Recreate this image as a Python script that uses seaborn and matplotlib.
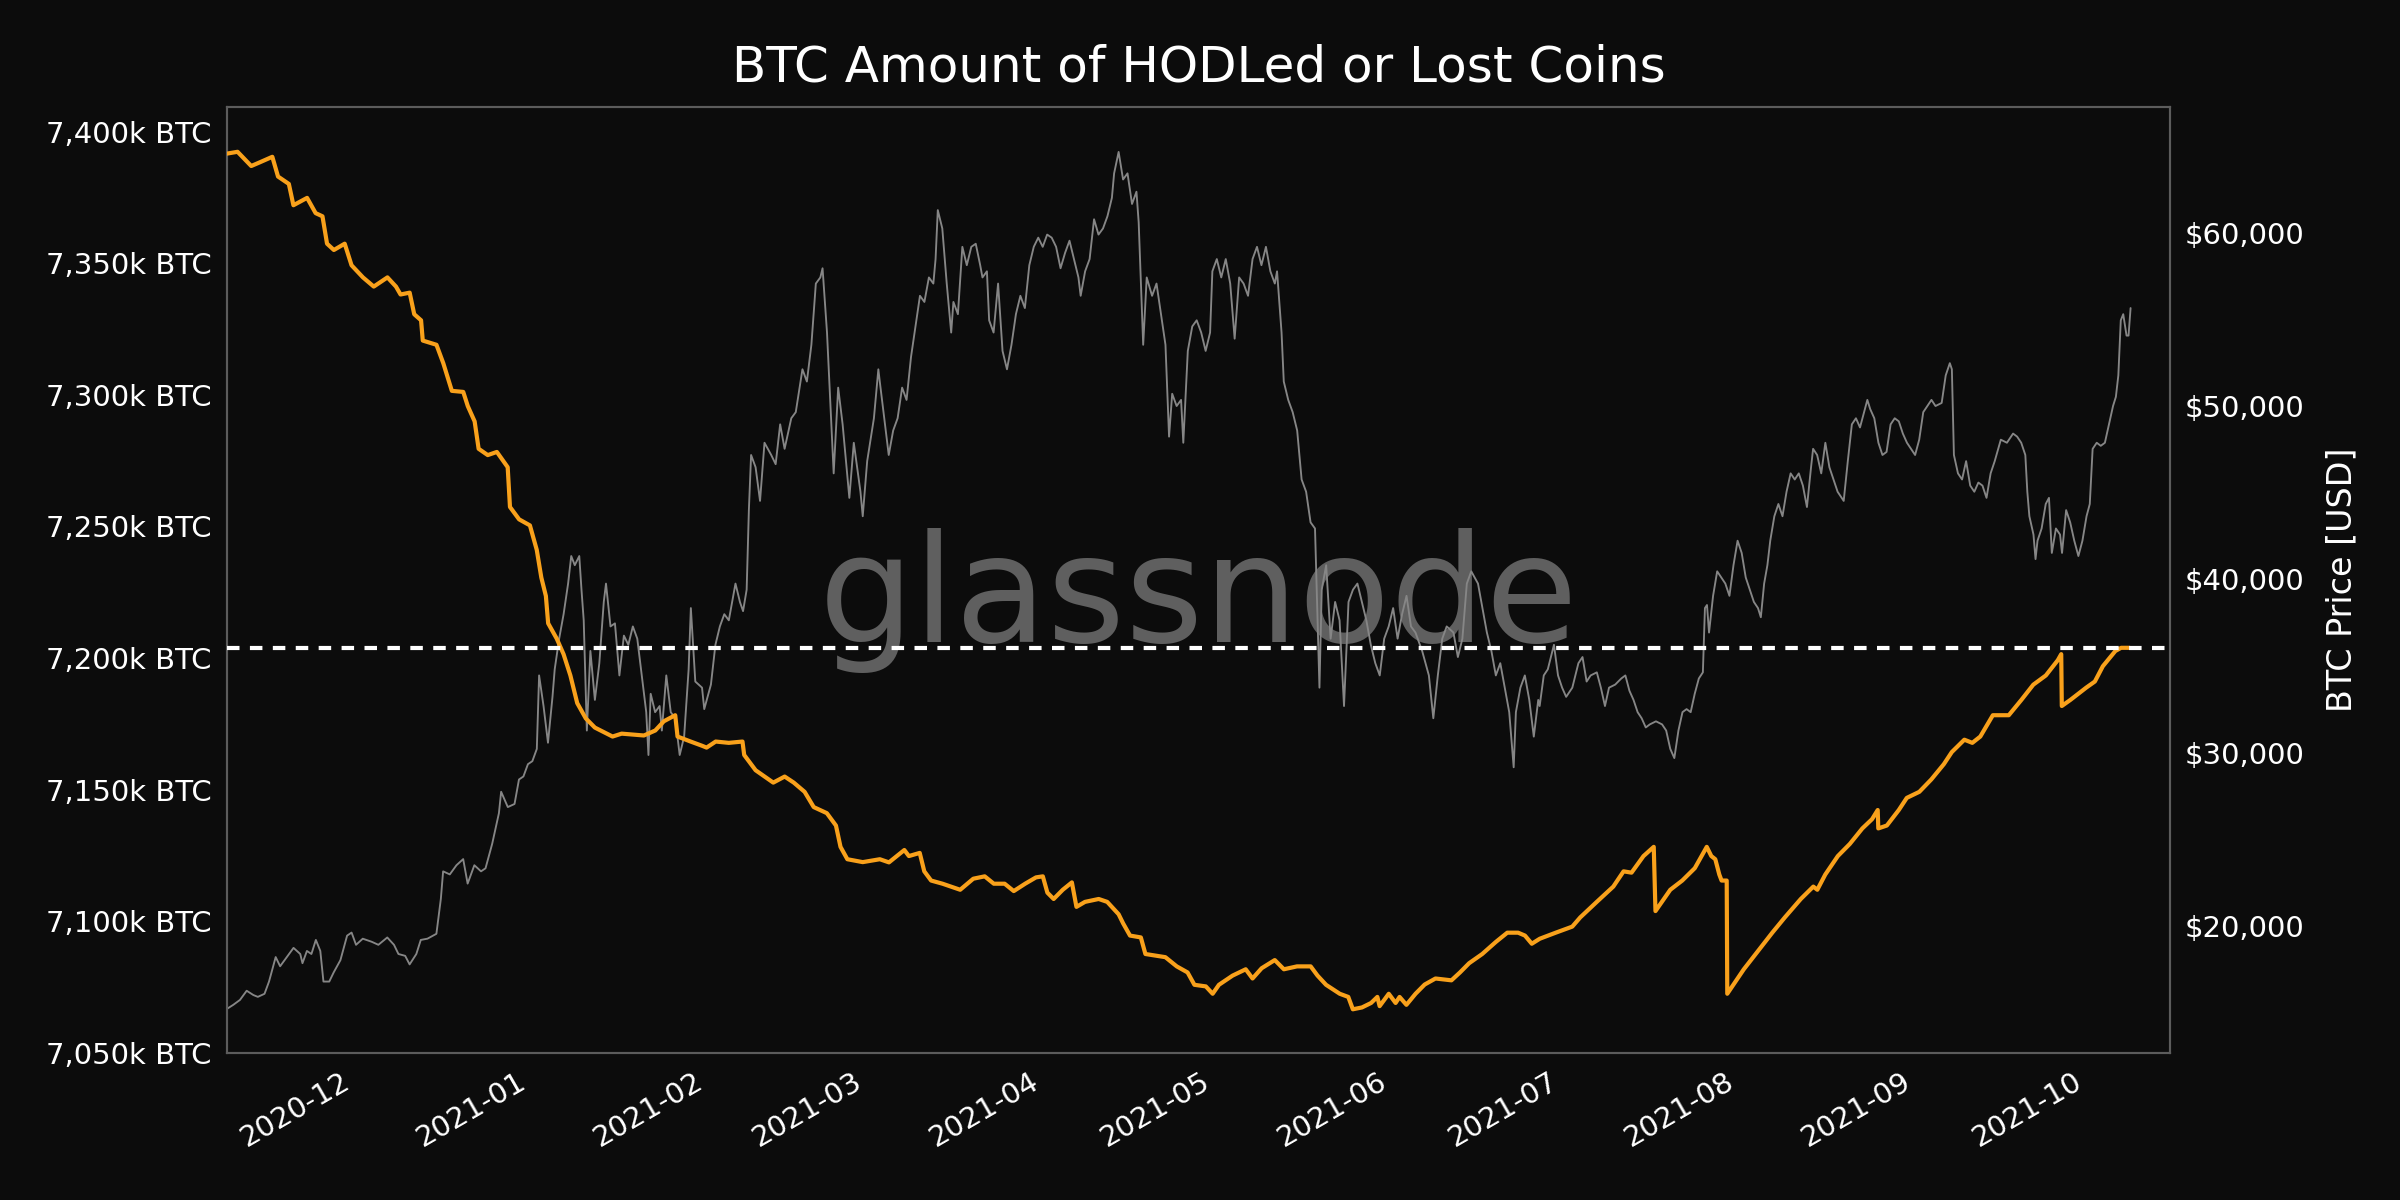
import numpy as np
import pandas as pd
import matplotlib
matplotlib.use("Agg")
import matplotlib.pyplot as plt
import matplotlib.dates as mdates
from matplotlib.ticker import FuncFormatter, MultipleLocator
import seaborn as sns

# ---------------- data ----------------
epoch = "2020-11-29 12:00"   # day 0 for the day offsets below

# Amount of HODLed or lost coins (thousand BTC)
hodl_day = [
    -20.9, -19.0, -16.6, -15.1, -12.9, -11.9, -10.0, -9.2,
    -6.8, -5.3, -4.1, -3.3, -2.1, -0.2, 1.0, 3.0,
    4.9, 7.3, 8.8, 9.6, 11.2, 12.0, 13.2, 13.5,
    15.9, 17.1, 18.6, 20.6, 21.4, 22.6, 23.3, 24.9,
    26.5, 28.4, 28.8, 30.4, 32.3, 33.5, 34.3, 35.1,
    35.5, 37.0, 38.2, 39.4, 40.6, 42.1, 43.7, 46.8,
    48.4, 52.3, 54.3, 55.8, 57.8, 58.2, 60.5, 62.5,
    63.3, 64.9, 67.2, 69.6, 69.9, 71.9, 75.0, 77.0,
    78.6, 80.5, 82.1, 84.4, 86.0, 86.8, 88.0, 90.7,
    93.7, 95.3, 98.0, 98.8, 100.7, 101.5, 102.7, 104.7,
    106.2, 107.8, 110.1, 112.1, 113.7, 115.6, 117.2, 119.2,
    121.1, 122.3, 123.1, 124.2, 125.8, 127.4, 128.2, 129.7,
    132.1, 133.6, 135.6, 136.4, 137.6, 139.5, 140.3, 142.3,
    143.8, 145.8, 147.7, 148.9, 150.9, 152.1, 153.2, 155.6,
    157.9, 159.1, 160.7, 163.0, 164.6, 166.9, 169.3, 170.5,
    172.0, 174.4, 175.9, 176.7, 178.3, 179.9, 181.0, 181.4,
    183.0, 184.2, 184.9, 186.1, 187.7, 189.3, 191.2, 194.0,
    195.5, 197.1, 199.4, 201.8, 203.8, 205.7, 206.9, 208.1,
    209.5, 212.3, 215.2, 216.6, 219.5, 222.4, 224.2, 225.6,
    227.7, 229.5, 229.8, 232.4, 234.5, 236.7, 238.8, 239.6,
    240.3, 241.0, 241.4, 242.3, 242.4, 245.3, 248.2, 250.3,
    252.5, 255.3, 257.5, 258.2, 259.6, 261.8, 263.9, 266.1,
    267.8, 268.8, 268.9, 270.4, 272.5, 273.9, 276.1, 278.2,
    280.4, 281.8, 284.0, 285.4, 286.8, 289.0, 291.8, 294.0,
    296.1, 298.3, 300.4, 301.0, 301.1, 302.6, 305.4, 306.9,
    308.3, 310.5, 311.5, 313.0,
]
hodl_kbtc = [
    7391.6, 7392.3, 7386.9, 7388.3, 7390.4, 7382.9, 7380.1, 7372.0,
    7374.8, 7369.0, 7367.8, 7357.4, 7355.0, 7357.4, 7349.2, 7344.6,
    7341.1, 7344.6, 7341.1, 7338.1, 7338.8, 7330.6, 7328.3, 7320.6,
    7319.0, 7312.0, 7301.5, 7301.1, 7295.7, 7289.9, 7279.5, 7277.1,
    7278.3, 7272.5, 7257.4, 7252.7, 7250.4, 7241.1, 7230.6, 7223.6,
    7213.2, 7207.4, 7201.5, 7193.4, 7182.9, 7177.1, 7173.6, 7170.2,
    7171.3, 7170.6, 7172.5, 7176.0, 7178.3, 7170.2, 7168.3, 7166.7,
    7166.0, 7168.3, 7167.8, 7168.3, 7163.2, 7157.4, 7152.7, 7155.0,
    7152.7, 7149.2, 7143.4, 7141.1, 7136.4, 7128.3, 7123.6, 7122.5,
    7123.6, 7122.4, 7127.1, 7124.8, 7126.0, 7119.0, 7115.5, 7114.3,
    7113.2, 7112.0, 7116.2, 7117.1, 7114.3, 7114.3, 7111.5, 7114.3,
    7116.7, 7117.1, 7110.9, 7108.5, 7112.0, 7114.8, 7105.5, 7107.4,
    7108.5, 7107.4, 7102.7, 7099.2, 7094.6, 7093.9, 7087.6, 7086.9,
    7086.4, 7082.9, 7080.6, 7075.9, 7075.3, 7072.5, 7075.9, 7079.4,
    7081.8, 7078.3, 7082.2, 7085.3, 7081.8, 7082.9, 7082.9, 7079.4,
    7075.9, 7072.5, 7071.3, 7066.6, 7067.3, 7069.0, 7071.3, 7067.8,
    7072.5, 7069.0, 7071.3, 7068.3, 7072.5, 7076.0, 7078.3, 7077.6,
    7080.6, 7084.1, 7087.6, 7092.2, 7095.7, 7095.7, 7094.6, 7091.5,
    7093.4, 7095.7, 7098.0, 7101.5, 7107.4, 7113.2, 7119.0, 7118.5,
    7124.8, 7128.3, 7103.9, 7112.0, 7115.5, 7120.2, 7128.3, 7124.8,
    7123.6, 7117.8, 7115.5, 7115.5, 7072.5, 7081.8, 7089.9, 7095.7,
    7101.5, 7108.5, 7113.2, 7112.0, 7117.8, 7124.8, 7129.4, 7135.3,
    7138.8, 7142.3, 7135.3, 7136.4, 7142.3, 7146.9, 7149.2, 7153.9,
    7159.7, 7164.3, 7169.0, 7167.8, 7170.2, 7178.3, 7178.3, 7184.1,
    7189.9, 7193.4, 7199.2, 7201.5, 7181.8, 7184.1, 7188.8, 7191.1,
    7196.9, 7202.7, 7203.9, 7203.9,
]

# BTC price (USD)
price_day = [
    -20.93, -19.75, -18.58, -17.40, -16.23, -15.44, -14.27, -13.48,
    -12.31, -11.53, -10.35, -9.18, -8.00, -7.61, -6.83, -6.04,
    -5.26, -4.48, -3.93, -2.91, -2.13, -0.95, 0.22, 1.01,
    1.79, 2.97, 4.53, 5.71, 7.27, 8.45, 9.23, 10.41,
    11.19, 12.37, 13.15, 14.32, 15.89, 16.67, 17.07, 18.24,
    19.41, 20.59, 21.37, 22.55, 23.72, 24.51, 25.68, 26.86,
    27.25, 28.42, 29.60, 30.38, 31.16, 31.95, 32.73, 33.51,
    33.91, 34.69, 35.47, 36.26, 36.65, 37.43, 38.21, 39.00,
    39.55, 40.17, 40.96, 41.35, 41.74, 42.29, 42.91, 43.70,
    44.48, 45.26, 45.65, 46.44, 47.22, 48.00, 48.79, 49.57,
    50.36, 51.14, 51.92, 52.71, 53.10, 53.49, 54.27, 55.06,
    55.45, 56.23, 57.01, 57.80, 58.58, 59.36, 60.15, 60.54,
    61.32, 62.50, 62.89, 64.06, 64.85, 65.63, 66.41, 67.20,
    68.37, 69.15, 69.70, 70.33, 70.72, 71.11, 71.90, 72.68,
    73.46, 74.64, 75.42, 76.21, 76.99, 78.16, 78.95, 80.12,
    80.90, 81.69, 82.47, 83.26, 83.65, 84.43, 85.60, 86.39,
    87.17, 88.35, 89.13, 90.30, 90.70, 91.48, 92.66, 93.44,
    93.69, 94.47, 95.26, 96.04, 96.82, 97.61, 98.39, 99.17,
    99.96, 100.74, 101.52, 102.31, 103.09, 103.48, 103.87, 104.66,
    105.44, 106.22, 106.61, 107.40, 108.18, 108.96, 109.75, 110.53,
    111.31, 111.71, 112.49, 112.88, 113.66, 114.45, 115.23, 116.01,
    116.80, 117.58, 118.36, 119.15, 119.93, 120.71, 121.50, 122.28,
    123.06, 123.85, 124.63, 125.41, 126.20, 126.98, 127.76, 128.55,
    128.94, 129.72, 130.51, 131.29, 132.07, 132.86, 133.64, 134.42,
    134.81, 135.60, 136.38, 137.16, 137.95, 138.73, 139.12, 139.51,
    139.91, 140.53, 141.47, 142.25, 143.04, 143.82, 144.45, 145.00,
    145.78, 146.56, 146.95, 147.74, 148.52, 149.30, 150.09, 150.87,
    151.65, 152.05, 152.83, 153.61, 154.40, 155.18, 155.96, 156.75,
    157.53, 158.31, 159.10, 159.88, 160.66, 161.45, 162.23, 163.01,
    163.40, 164.19, 164.58, 165.36, 166.14, 166.93, 167.71, 168.50,
    169.28, 170.06, 170.84, 171.24, 172.02, 172.80, 173.59, 174.37,
    175.15, 175.94, 176.72, 177.50, 178.29, 179.07, 179.85, 180.64,
    181.42, 182.20, 182.99, 183.77, 184.55, 185.34, 186.12, 186.90,
    187.69, 188.86, 190.04, 190.82, 191.61, 192.39, 193.17, 194.35,
    195.13, 195.92, 196.70, 197.48, 198.66, 199.44, 200.22, 201.01,
    201.79, 202.57, 203.36, 204.14, 204.92, 205.31, 206.10, 206.88,
    207.66, 208.45, 209.23,
    209.48, 210.20, 210.91, 211.99, 212.70, 213.42, 214.13, 215.21,
    216.28, 217.00, 217.72, 218.43, 219.51, 220.22, 220.94, 221.65,
    222.73, 223.80, 224.52, 225.23, 225.95, 226.67, 227.38, 228.10,
    228.81, 229.89, 230.96, 231.68, 232.40, 233.11, 233.83, 234.54,
    235.26, 235.98, 236.69, 237.41, 238.12, 238.48, 238.84, 239.20,
    239.91, 240.63, 241.35, 242.06, 242.78, 243.49, 244.21, 244.93,
    245.64, 246.36, 247.07, 247.79, 248.29, 248.87, 249.44, 249.94,
    250.66, 251.37, 252.09, 252.80, 253.52, 254.24, 254.95, 255.67,
    256.38, 257.10, 257.46, 258.17, 258.89, 259.61, 260.32, 261.04,
    261.76, 262.83, 263.55, 264.26, 264.98, 265.69, 266.41, 266.98,
    267.48, 268.20, 268.92, 269.63, 270.35, 271.06, 271.78, 272.50,
    273.21, 273.93, 274.64, 275.36, 276.08, 276.79, 277.51, 278.23,
    278.94, 280.02, 280.73, 281.45, 281.81, 282.17, 282.88, 283.60,
    284.31, 285.03, 285.75, 286.46, 287.18, 287.89, 288.61, 289.33,
    290.40, 291.47, 292.55, 293.26, 293.98, 294.70, 295.05, 295.41,
    296.13, 296.49, 296.84, 297.56, 298.28, 298.85, 299.35, 300.07,
    300.79, 301.14, 301.86, 302.57, 303.29, 304.01, 304.72, 305.44,
    306.01, 306.51, 307.23, 307.94, 308.66, 309.38, 310.09, 310.59,
    311.02, 311.45, 311.88, 312.46, 312.81, 313.17,
]
price_usd = [
    15202, 15450, 15732, 16262, 16015, 15909, 16086, 16792,
    18205, 17675, 18205, 18735, 18382, 17852, 18558, 18382,
    19194, 18558, 16792, 16792, 17322, 18028, 19441, 19618,
    18912, 19265, 19088, 18912, 19335, 18912, 18382, 18276,
    17782, 18382, 19194, 19265, 19547, 21560, 23150, 22973,
    23503, 23856, 22443, 23503, 23150, 23326, 24739, 26505,
    27741, 26858, 27035, 28448, 28624, 29331, 29507, 30213,
    34452, 32686, 30567, 33216, 34805, 36571, 37984, 39750,
    41339, 40810, 41339, 39397, 37631, 31273, 35865, 33039,
    35158, 38691, 39750, 37278, 37455, 34452, 36748, 36218,
    37278, 36571, 34452, 32333, 29861, 33393, 32333, 32686,
    31273, 34452, 32333, 31980, 29861, 30920, 34805, 38337,
    34099, 33746, 32509, 33922, 36218, 37278, 37984, 37631,
    39750, 38691, 38161, 39397, 43989, 47168, 46461, 44519,
    47874, 47168, 46638, 48937, 47524, 49287, 49640, 52112,
    51406, 53525, 57057, 57410, 57940, 54231, 46108, 51053,
    48937, 44695, 47874, 45048, 43635, 46814, 49287, 52112,
    51406, 49287, 47168, 48580, 49287, 51053, 50346, 52819,
    54581, 56351, 55997, 57410, 57057, 58470, 61295, 60236,
    57057, 54231, 55997, 55291, 59176, 58117, 59176, 59353,
    58117, 57410, 57764, 54938, 54231, 57057, 53172, 52112,
    53525, 55291, 56351, 55644, 58117, 59176, 59706, 59176,
    59883, 59706, 59176, 57940, 58823, 59529, 58470, 57410,
    56351, 57764, 58470, 60766, 59883, 60236, 60942, 62002,
    63415, 64651, 63061, 63415, 61649, 62355, 60589, 57057,
    53525, 57410, 56351, 57057, 55291, 53525, 48227, 50700,
    49993, 50346, 47874, 53172, 54584, 54938, 54231, 53172,
    54231, 57764, 58470, 57410, 58470, 57057, 53878, 57410,
    57057, 56351, 58470, 59176, 58117, 59176, 57764, 57057,
    57764, 54231, 51406, 50346, 49640, 48580, 45755, 45048,
    43282, 42929, 33746, 39397, 40810, 36571, 38691, 37631,
    32686, 38691, 39397, 39750, 38691, 37631, 36218, 35158,
    34452, 36571, 37278, 38337, 36571, 37984, 39044, 37278,
    36925, 35865, 34452, 31980, 34452, 36571, 37278, 36925,
    35512, 36571, 39750, 40457, 39750, 38337, 36925, 35865,
    34452, 35158, 33746, 32333, 29154, 32333, 33746, 34452,
    33039, 30920, 33039,
    32686, 34452, 34805, 36218, 34452, 33746, 33216, 33746,
    35158, 35512, 34099, 34452, 34629, 33746, 32686, 33746,
    33922, 34275, 34452, 33569, 33039, 32333, 31980, 31450,
    31627, 31804, 31627, 31273, 30213, 29684, 31273, 32333,
    32509, 32333, 33393, 34275, 34629, 38337, 38514, 36925,
    39044, 40457, 40104, 39750, 39044, 40810, 42223, 41517,
    40104, 39397, 38691, 38337, 37808, 39750, 40810, 42223,
    43635, 44342, 43635, 45048, 46108, 45755, 46108, 45402,
    44165, 46461, 47524, 47168, 46108, 47874, 46461, 45755,
    45048, 44519, 46814, 48934, 49287, 48757, 49640, 50346,
    49817, 49287, 47874, 47168, 47344, 48934, 49287, 49110,
    48404, 47874, 47521, 47168, 48051, 49640, 49993, 50346,
    49993, 50170, 51759, 52465, 52112, 47168, 46108, 45755,
    46814, 45402, 45048, 45578, 45402, 44695, 46108, 46814,
    48051, 47874, 48404, 48227, 47874, 47168, 45048, 43635,
    42576, 41163, 42223, 42929, 44342, 44695, 41517, 42929,
    42576, 41517, 43988, 43282, 42223, 41340, 42223, 43635,
    44342, 47521, 47874, 47697, 47874, 48934, 49993, 50523,
    51759, 54938, 55291, 54055, 54055, 55644,
]

title = "BTC Amount of HODLed or Lost Coins"
price_label = "BTC Price [USD]"
watermark = "glassnode"
x_end_day = 320.1

# ---------------- build frames ----------------
t0 = pd.Timestamp(epoch)
hodl_df = pd.DataFrame({"date": t0 + pd.to_timedelta(hodl_day, unit="D"),
                        "hodl": hodl_kbtc})
price_df = pd.DataFrame({"date": t0 + pd.to_timedelta(price_day, unit="D"),
                         "price": price_usd})

# ---------------- style ----------------
sns.set_theme(style="dark")
plt.rcParams["font.family"] = ["DejaVu Sans"]
BG = "#0c0c0c"
SPINE = "#5c5c5c"
ORANGE = "#f9a11b"
GREY = "#868686"

fig = plt.figure(figsize=(16, 8), dpi=150, facecolor=BG)
ax = fig.add_axes([0.0944, 0.1225, 0.8098, 0.7883])
ax2 = ax.twinx()
ax.set_zorder(ax2.get_zorder() + 1)
ax.patch.set_visible(False)
ax2.patch.set_visible(True)
ax2.patch.set_facecolor(BG)

# watermark behind price
ax2.text(0.5, 0.434, watermark, transform=ax2.transAxes, ha="center",
         va="baseline", fontsize=72, color="#5f5f5f", zorder=0)

sns.lineplot(data=price_df, x="date", y="price", ax=ax2, color=GREY,
             linewidth=0.9, estimator=None, zorder=2)
sns.lineplot(data=hodl_df, x="date", y="hodl", ax=ax, color=ORANGE,
             linewidth=2.0, estimator=None, zorder=3)
ax.axhline(hodl_kbtc[-1], color="white", linewidth=2.0,
           linestyle=(0, (3, 2.5)), zorder=4)

# limits
ax.set_xlim(price_df["date"].iloc[0], t0 + pd.Timedelta(days=x_end_day))
ax.set_ylim(7050, 7409.3)
ax2.set_ylim(12671, 67240)

# axes formatting
ax.xaxis.set_major_locator(mdates.MonthLocator())
ax.xaxis.set_major_formatter(mdates.DateFormatter("%Y-%m"))
ax.yaxis.set_major_locator(MultipleLocator(50))
ax.yaxis.set_major_formatter(FuncFormatter(lambda v, p: f"{v:,.0f}k BTC"))
ax2.yaxis.set_major_locator(MultipleLocator(10000))
ax2.yaxis.set_major_formatter(FuncFormatter(lambda v, p: f"${v:,.0f}"))

for a in (ax, ax2):
    a.grid(False)
    a.set_xlabel("")
    for s in a.spines.values():
        s.set_visible(True)
        s.set_color(SPINE)
        s.set_linewidth(1.0)
ax.set_ylabel("")
ax.tick_params(axis="both", colors="white", labelsize=14, length=0, pad=7)
ax2.tick_params(axis="y", colors="white", labelsize=14, length=0, pad=7)
ax2.set_ylabel(price_label, color="white", fontsize=16, labelpad=10)
plt.setp(ax.get_xticklabels(), rotation=30, ha="right")

fig.text(0.4994, 0.944, title, ha="center", va="center", fontsize=24,
         color="white")

fig.savefig("out.png", dpi=150, facecolor=BG)
